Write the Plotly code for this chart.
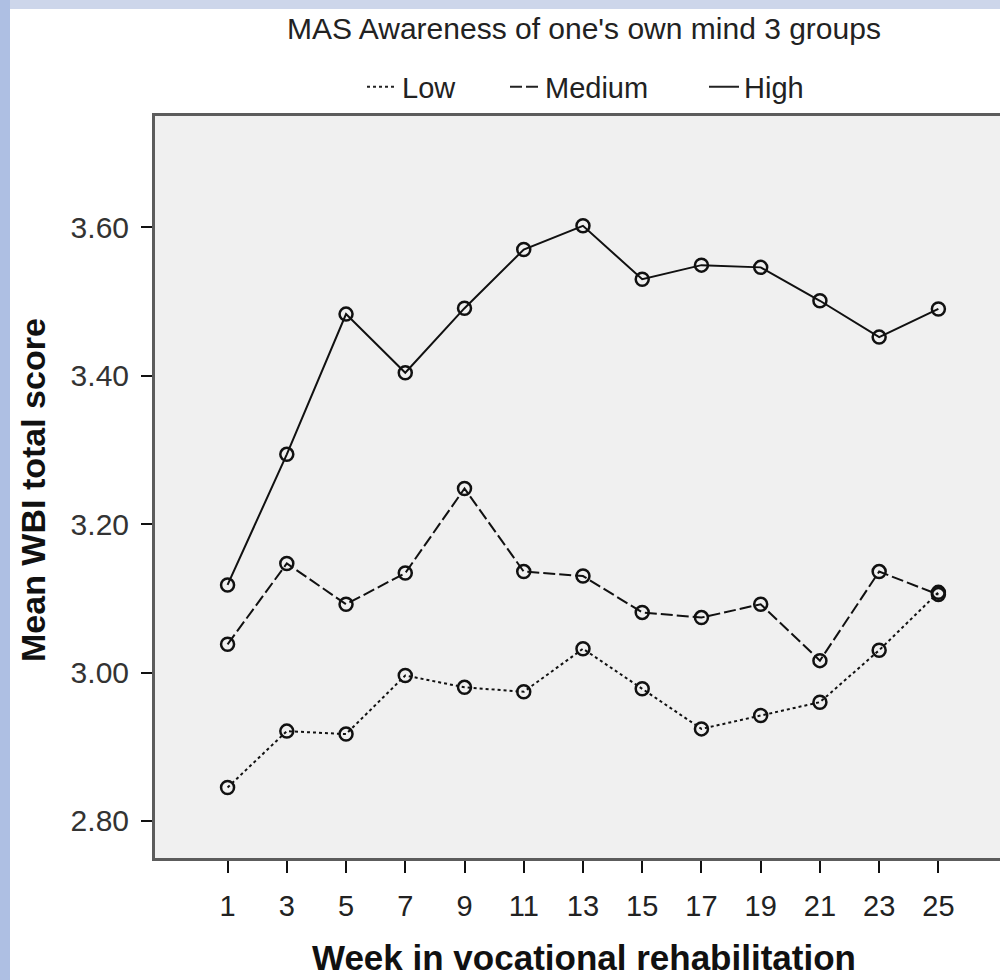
import plotly.graph_objects as go

weeks = [1, 3, 5, 7, 9, 11, 13, 15, 17, 19, 21, 23, 25]
low = [2.845, 2.921, 2.917, 2.996, 2.980, 2.974, 3.032, 2.978, 2.924, 2.942, 2.960, 3.030, 3.108]
medium = [3.038, 3.147, 3.092, 3.134, 3.248, 3.136, 3.130, 3.081, 3.074, 3.092, 3.016, 3.136, 3.105]
high = [3.118, 3.294, 3.483, 3.404, 3.491, 3.570, 3.602, 3.530, 3.549, 3.546, 3.501, 3.452, 3.490]
series_names = ["Low", "Medium", "High"]
y_ticks = [2.80, 3.00, 3.20, 3.40, 3.60]

title_text = "MAS Awareness of one's own mind 3 groups"
x_title = "Week in vocational rehabilitation"
y_title = "Mean WBI total score"

dashes = {"Low": "3px,3px", "Medium": "12px,4px", "High": "solid"}
values = {"Low": low, "Medium": medium, "High": high}
legend_ids = {"Low": "legend", "Medium": "legend2", "High": "legend3"}
legend_left_px = {"Low": 362, "Medium": 505, "High": 704}
FONT = "Liberation Sans, Arial, sans-serif"

fig = go.Figure()
for name in series_names:
    fig.add_trace(go.Scatter(
        x=weeks, y=values[name], mode="lines+markers", name=name,
        showlegend=False,
        line=dict(color="#111", width=2, dash=dashes[name]),
        marker=dict(symbol="circle-open", size=13, color="#111",
                    line=dict(width=2.5, color="#111")),
    ))
for name in series_names:
    fig.add_trace(go.Scatter(
        x=[None], y=[None], mode="lines", name=name, showlegend=True,
        legend=legend_ids[name],
        line=dict(color="#222", width=2, dash=dashes[name]),
    ))

L, T, B = 155, 116, 122
W, H = 1000, 980
pw = W - L
ph = H - T - B

def px_x(p):
    return (p - L) / pw

def px_y(p):
    return (H - B - p) / ph

shapes = [
    dict(type="rect", xref="paper", yref="paper", x0=px_x(0), x1=px_x(10),
         y0=px_y(980), y1=px_y(0), fillcolor="#aebfe3", line=dict(width=0), layer="below"),
    dict(type="rect", xref="paper", yref="paper", x0=px_x(10), x1=px_x(1000),
         y0=px_y(9), y1=px_y(0), fillcolor="#cdd6ea", line=dict(width=0), layer="below"),
]

legend_common = dict(orientation="h", xanchor="left", y=px_y(87), yanchor="middle",
                     font=dict(family=FONT, size=29, color="#222"),
                     bgcolor="rgba(0,0,0,0)")
legends = {}
for name in series_names:
    legends[legend_ids[name]] = dict(legend_common, x=px_x(legend_left_px[name]))

fig.update_layout(
    width=W, height=H,
    margin=dict(l=L, r=0, t=T, b=B),
    paper_bgcolor="white",
    plot_bgcolor="#f0f0f0",
    shapes=shapes,
    title=dict(text=title_text, x=584 / W, xanchor="center", y=1 - 28 / H, yanchor="middle",
               font=dict(family=FONT, size=30, color="#222")),
    xaxis=dict(range=[-1.45, 27.08], tickvals=weeks, ticktext=[str(w) for w in weeks],
               showgrid=False, zeroline=False, showline=True, linecolor="#5c5c5c", linewidth=3,
               mirror=True, ticks="outside", ticklen=12, tickwidth=1.5, tickcolor="#111",
               ticklabelstandoff=8,
               tickfont=dict(family=FONT, size=29, color="#222")),
    yaxis=dict(range=[2.75, 3.75], tickvals=y_ticks, ticktext=["%.2f" % v for v in y_ticks],
               showgrid=False, zeroline=False, showline=True, linecolor="#5c5c5c", linewidth=3,
               ticks="outside", ticklen=11, tickwidth=1.5, tickcolor="#111",
               ticklabelstandoff=6,
               tickfont=dict(family=FONT, size=30, color="#333")),
    annotations=[
        dict(text="<b>%s</b>" % x_title, xref="paper", yref="paper", x=px_x(584), y=px_y(958),
             xanchor="center", yanchor="middle", showarrow=False,
             font=dict(family=FONT, size=35, color="#111")),
        dict(text="<b>%s</b>" % y_title, xref="paper", yref="paper", x=px_x(33), y=px_y(490),
             xanchor="center", yanchor="middle", showarrow=False, textangle=-90,
             font=dict(family=FONT, size=34, color="#111")),
    ],
    **legends,
)

fig.write_html("out.html", config={"displayModeBar": False},
               post_script="document.body.style.margin='0';document.body.style.overflow='hidden';")
